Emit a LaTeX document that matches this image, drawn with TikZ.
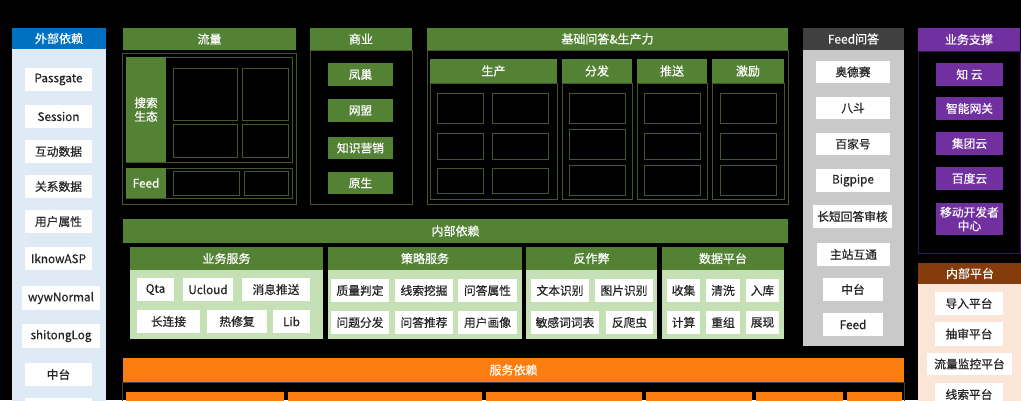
\documentclass[tikz,border=0pt]{standalone}
\usepackage{fontspec}
\newfontfamily\cjk{Noto Sans CJK SC}[FakeBold=0.6]
\definecolor{bhead}{HTML}{0070C0}
\definecolor{lblue}{HTML}{DEEBF7}
\definecolor{gr}{HTML}{548235}
\definecolor{lgr}{HTML}{C5E0B4}
\definecolor{dgr}{RGB}{68,86,42}
\definecolor{ghead}{HTML}{404040}
\definecolor{gbody}{HTML}{C9C9C9}
\definecolor{pur}{HTML}{7030A0}
\definecolor{dpur}{RGB}{55,22,85}
\definecolor{brn}{HTML}{843C0C}
\definecolor{peach}{HTML}{FBE5D6}
\definecolor{org}{RGB}{250,125,15}
\newcommand\bx[7]{\node[#2, minimum width={(#5-#3)*0.75pt}, minimum height={(#6-#4)*0.75pt}] (#1) at ({(#3+#5)/2},{(#4+#6)/2}) {#7};}
\tikzset{
  base/.style={inner sep=0pt, outer sep=0pt, font=\cjk\fontsize{8.8}{10.2}\selectfont, align=center},
  hdr/.style={base, font=\cjk\fontsize{9}{11}\selectfont, text=white},
  bluehd/.style={hdr, fill=bhead},
  greenhd/.style={hdr, fill=gr},
  grayhd/.style={hdr, fill=ghead},
  purhd/.style={hdr, fill=pur},
  brnhd/.style={hdr, fill=brn},
  orghd/.style={hdr, fill=org},
  panel/.style={base, fill=#1},
  wbox/.style={base, fill=white, text=black!85},
  gbox/.style={base, fill=gr, text=white},
  pbox/.style={base, fill=pur, text=white},
  obox/.style={base, fill=org},
  ebox/.style={base, draw=dgr, line width=0.6pt},
  outl/.style={base, draw=#1, line width=0.6pt},
}
\begin{document}
\begin{tikzpicture}[x=0.75pt,y=-0.75pt]
\useasboundingbox (0,0) rectangle (1021,400);
\fill[black] (0,0) rectangle (1021,400);
% ---------- external deps ----------
\bx{wbhd}{bluehd}{12}{28}{106}{49}{外部依赖}
\bx{wbbody}{panel=lblue}{12}{49}{106}{402}{}
\bx{pg}{wbox}{25}{68}{92}{91}{Passgate}
\bx{ss}{wbox}{25}{105}{92}{128}{Session}
\bx{hd}{wbox}{25}{140}{92}{163}{互动数据}
\bx{gx}{wbox}{25}{175}{92}{198}{关系数据}
\bx{yh}{wbox}{25}{210}{92}{233}{用户属性}
\bx{ik}{wbox}{25}{247}{92}{270}{IknowASP}
\bx{wy}{wbox}{22}{286}{100}{310}{wywNormal}
\bx{st}{wbox}{22}{324}{100}{348}{shitongLog}
\bx{zt}{wbox}{25}{363}{92}{386}{中台}
\bx{lastw}{wbox}{25}{398}{92}{412}{}
% ---------- flow ----------
\bx{llhd}{greenhd}{123}{28}{296}{50}{流量}
\bx{llout}{outl=dgr}{122}{53}{296}{204}{}
\bx{ssout}{outl=dgr}{126}{57}{292}{162}{}
\bx{fdout}{outl=dgr}{126}{168}{292}{198}{}
\bx{sssz}{gbox}{126}{57}{166}{162}{搜索\\生态}
\bx{feedg}{gbox}{126}{168}{166}{198}{Feed}
\bx{le1}{ebox}{173}{68}{237}{120}{}
\bx{le2}{ebox}{242}{68}{288}{120}{}
\bx{le3}{ebox}{173}{124}{237}{157}{}
\bx{le4}{ebox}{242}{124}{288}{157}{}
\bx{le5}{ebox}{173}{171}{239}{195}{}
\bx{le6}{ebox}{244}{171}{288}{195}{}
% ---------- business ----------
\bx{syhd}{greenhd}{310}{28}{412}{50}{商业}
\bx{syout}{outl=dgr}{310}{50}{412}{204}{}
\bx{fc}{gbox}{328}{63}{393}{86}{凤巢}
\bx{wm}{gbox}{328}{99}{393}{122}{网盟}
\bx{zs}{gbox}{328}{137}{393}{159}{知识营销}
\bx{ys}{gbox}{328}{172}{393}{194}{原生}
% ---------- QA & productivity ----------
\bx{jchd}{greenhd}{427}{28}{788}{50}{基础问答\&生产力}
\bx{jcout}{outl=dgr}{427}{50}{788}{204}{}
\bx{scout}{outl=dgr}{430}{83}{557}{199}{}
\bx{ffout}{outl=dgr}{562}{83}{632}{199}{}
\bx{tsout}{outl=dgr}{637}{83}{707}{199}{}
\bx{jlout}{outl=dgr}{712}{83}{784}{199}{}
\bx{schd}{greenhd}{430}{59}{557}{83}{生产}
\bx{ffhd}{greenhd}{562}{59}{632}{83}{分发}
\bx{tshd}{greenhd}{637}{59}{707}{83}{推送}
\bx{jlhd}{greenhd}{712}{59}{784}{83}{激励}
\bx{sc1}{ebox}{437}{93}{483}{123}{}
\bx{sc2}{ebox}{492}{93}{548}{123}{}
\bx{sc3}{ebox}{437}{133}{483}{159}{}
\bx{sc4}{ebox}{492}{133}{548}{159}{}
\bx{sc5}{ebox}{437}{168}{483}{193}{}
\bx{sc6}{ebox}{492}{168}{548}{193}{}
\bx{ff1}{ebox}{569}{93}{625}{123}{}
\bx{ff2}{ebox}{569}{129}{625}{159}{}
\bx{ff3}{ebox}{569}{165}{625}{195}{}
\bx{ts1}{ebox}{644}{93}{700}{123}{}
\bx{ts2}{ebox}{644}{133}{700}{159}{}
\bx{ts3}{ebox}{644}{165}{700}{195}{}
\bx{jl1}{ebox}{720}{93}{776}{123}{}
\bx{jl2}{ebox}{720}{133}{776}{159}{}
\bx{jl3}{ebox}{720}{165}{776}{195}{}
% ---------- Feed QA ----------
\bx{fqhd}{grayhd}{803}{28}{904}{50}{Feed问答}
\bx{fqbody}{panel=gbody}{803}{50}{904}{346}{}
\bx{ads}{wbox}{816}{61}{890}{83}{奥德赛}
\bx{bd}{wbox}{816}{97}{890}{119}{八斗}
\bx{bjh}{wbox}{816}{133}{890}{155}{百家号}
\bx{bp}{wbox}{816}{169}{890}{192}{Bigpipe}
\bx{cd}{wbox}{813}{205}{892}{228}{长短回答审核}
\bx{zz}{wbox}{817}{243}{890}{266}{主站互通}
\bx{zt2}{wbox}{823}{278}{883}{301}{中台}
\bx{fd2}{wbox}{823}{313}{883}{336}{Feed}
% ---------- business support ----------
\bx{ywhd}{purhd}{918}{28}{1020}{51}{业务支撑}
\bx{ywout}{outl=dpur}{918}{51}{1020}{253}{}
\bx{zy}{pbox}{936}{63}{1003}{86}{知 云}
\bx{zn}{pbox}{936}{97}{1003}{120}{智能网关}
\bx{jt}{pbox}{936}{132}{1003}{155}{集团云}
\bx{bdy}{pbox}{936}{167}{1003}{190}{百度云}
\bx{yd}{pbox}{936}{203}{1003}{235}{移动开发者\\中心}
% ---------- internal platform ----------
\bx{nbhd}{brnhd}{918}{263}{1022}{284}{内部平台}
\bx{nbbody}{panel=peach}{918}{284}{1022}{402}{}
\bx{dr}{wbox}{935}{292}{1003}{315}{导入平台}
\bx{cs}{wbox}{935}{322}{1003}{346}{抽审平台}
\bx{ljk}{wbox}{927}{353}{1012}{375}{流量监控平台}
\bx{xs}{wbox}{935}{383}{1003}{406}{线索平台}
% ---------- internal deps ----------
\bx{nyhd}{greenhd}{123}{219}{788}{243}{内部依赖}
\bx{ywfb}{panel=lgr}{130}{270}{323}{339}{}
\bx{clb}{panel=lgr}{328}{270}{522}{339}{}
\bx{fzb}{panel=lgr}{526}{270}{657}{339}{}
\bx{sjb}{panel=lgr}{662}{270}{784}{339}{}
\bx{ywfh}{greenhd}{130}{247}{323}{270}{业务服务}
\bx{clh}{greenhd}{328}{247}{522}{270}{策略服务}
\bx{fzh}{greenhd}{526}{247}{657}{270}{反作弊}
\bx{sjh}{greenhd}{662}{247}{784}{270}{数据平台}
\bx{qta}{wbox}{137}{278}{174}{301}{Qta}
\bx{ucl}{wbox}{183}{278}{233}{301}{Ucloud}
\bx{xx}{wbox}{242}{278}{310}{301}{消息推送}
\bx{clj}{wbox}{137}{310}{200}{333}{长连接}
\bx{rxf}{wbox}{207}{310}{267}{333}{热修复}
\bx{lib}{wbox}{273}{310}{310}{333}{Lib}
\bx{zl}{wbox}{331}{279}{389}{302}{质量判定}
\bx{xw}{wbox}{395}{279}{453}{302}{线索挖掘}
\bx{wd}{wbox}{458}{279}{517}{302}{问答属性}
\bx{wf}{wbox}{331}{311}{389}{334}{问题分发}
\bx{wt}{wbox}{395}{311}{453}{334}{问答推荐}
\bx{yhx}{wbox}{458}{311}{517}{334}{用户画像}
\bx{wb}{wbox}{531}{279}{589}{302}{文本识别}
\bx{tp}{wbox}{595}{279}{653}{302}{图片识别}
\bx{mg}{wbox}{531}{311}{599}{334}{敏感词词表}
\bx{fp}{wbox}{606}{311}{653}{334}{反爬虫}
\bx{sj1}{wbox}{667}{279}{700}{302}{收集}
\bx{sj2}{wbox}{706}{279}{740}{302}{清洗}
\bx{sj3}{wbox}{746}{279}{779}{302}{入库}
\bx{sj4}{wbox}{667}{311}{700}{334}{计算}
\bx{sj5}{wbox}{706}{311}{740}{334}{重组}
\bx{sj6}{wbox}{746}{311}{779}{334}{展现}
% ---------- service deps ----------
\bx{fwhd}{orghd}{123}{358}{904}{382}{服务依赖}
\bx{fwout}{outl=ghead}{122}{382}{904}{404}{}
\bx{o1}{obox}{126}{392}{284}{406}{}
\bx{o2}{obox}{288}{392}{482}{406}{}
\bx{o3}{obox}{486}{392}{642}{406}{}
\bx{o4}{obox}{646}{392}{752}{406}{}
\bx{o5}{obox}{756}{392}{843}{406}{}
\bx{o6}{obox}{847}{392}{902}{406}{}
\end{tikzpicture}
\end{document}
